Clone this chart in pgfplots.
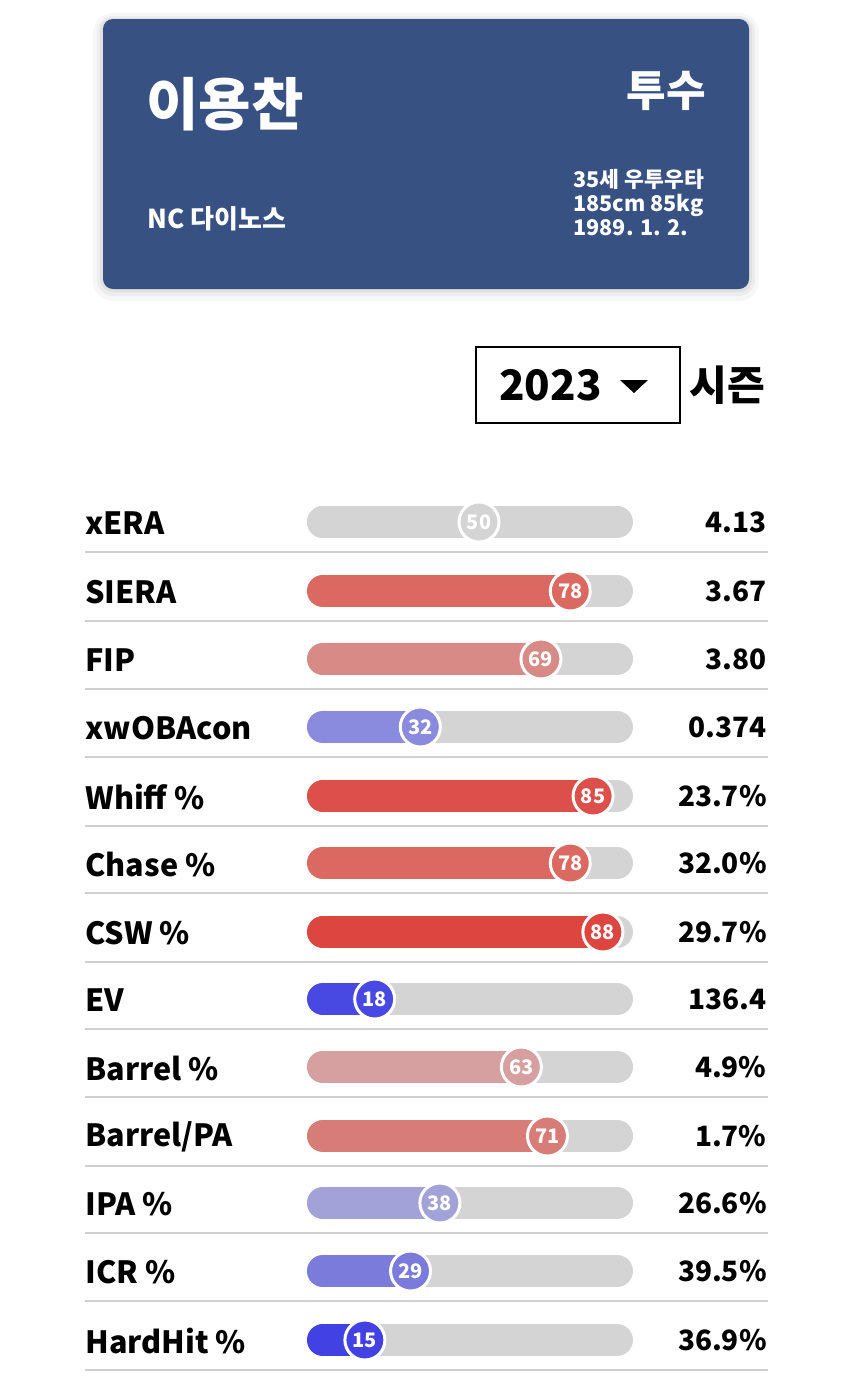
\documentclass[border=0pt]{standalone}
\usepackage{pgfplots}
\pgfplotsset{compat=1.18}
\usepackage{fontspec}
\setmainfont{Noto Sans CJK KR}
\definecolor{card}{HTML}{385183}
\definecolor{track}{HTML}{D4D4D4}
\definecolor{sepc}{HTML}{D0D0D0}
\definecolor{cA}{HTML}{D4D4D4}
\definecolor{cB}{HTML}{DC6862}
\definecolor{cC}{HTML}{D88A86}
\definecolor{cD}{HTML}{8A8ADE}
\definecolor{cE}{HTML}{DC4F4A}
\definecolor{cF}{HTML}{DC6862}
\definecolor{cG}{HTML}{DD4540}
\definecolor{cH}{HTML}{4848E2}
\definecolor{cI}{HTML}{D6A0A0}
\definecolor{cJ}{HTML}{D87C78}
\definecolor{cK}{HTML}{A2A2D8}
\definecolor{cL}{HTML}{7B7BDC}
\definecolor{cM}{HTML}{4242E4}
\newcommand{\prow}[3]{%
 \addplot[track, line width=16pt, line cap=round] coordinates {(2.15,#1) (92.33,#1)};
 \addplot[#3, line width=16pt, line cap=round] coordinates {(2.15,#1) (#2,#1)};
 \addplot[only marks, mark=*, mark size=10pt, mark options={fill=#3, draw=white, line width=1.5pt},
   point meta=explicit symbolic, nodes near coords, nodes near coords align={center},
   every node near coord/.append style={font=\bfseries\fontsize{10}{10}\selectfont, text=white, inner sep=0pt}]
   coordinates {(#2,#1) [#2]};
}
\newcommand{\lrow}[3]{%
 \node[anchor=west, inner sep=0pt, font=\bfseries\fontsize{15.3}{15.3}\selectfont] at (axis cs:85,#1+1) {#2};
 \node[anchor=east, inner sep=0pt, font=\bfseries\fontsize{14}{14}\selectfont] at (axis cs:767,#1) {#3};
 \draw[sepc, line width=0.6pt] (axis cs:85,#1+30) -- (axis cs:768,#1+30);
}
\begin{document}
\begin{tikzpicture}
\useasboundingbox (0,0) rectangle (425pt,694pt);
\begin{axis}[at={(0,0)}, anchor=south west, scale only axis, width=425pt, height=694pt,
  xmin=0, xmax=850, ymin=0, ymax=1388, y dir=reverse, hide axis, clip=false]
 % card shadow
 \fill[black, opacity=0.03, rounded corners=10pt] (axis cs:93,13) rectangle (axis cs:759,301);
 \fill[black, opacity=0.04, rounded corners=8pt] (axis cs:97,16) rectangle (axis cs:755,296);
 \fill[black, opacity=0.05, rounded corners=6pt] (axis cs:100,18) rectangle (axis cs:752,292);
 \fill[card, rounded corners=5pt] (axis cs:103,19) rectangle (axis cs:749,289);
 \node[anchor=west, inner sep=0pt, text=white, font=\bfseries\fontsize{28.5}{28.5}\selectfont] at (axis cs:146,104) {이용찬};
 \node[anchor=east, inner sep=0pt, text=white, font=\bfseries\fontsize{21.5}{21.5}\selectfont] at (axis cs:706,91) {투수};
 \node[anchor=west, inner sep=0pt, text=white, font=\bfseries\fontsize{13}{13}\selectfont] at (axis cs:147,219) {NC 다이노스};
 \node[anchor=north west, inner sep=0pt, text=white, align=left, font=\bfseries\fontsize{10.8}{12}\selectfont] at (axis cs:573,169) {35세 우투우타\\185cm 85kg\\1989. 1. 2.};
 % season selector
 \draw[black, line width=0.8pt] (axis cs:476,347) rectangle (axis cs:680,423);
 \node[anchor=west, inner sep=0pt, font=\bfseries\fontsize{21}{21}\selectfont] at (axis cs:499,385) {2023};
 \fill[black] (axis cs:620,380) -- (axis cs:648,380) -- (axis cs:634,393) -- cycle;
 \node[anchor=west, inner sep=0pt, font=\bfseries\fontsize{20.5}{20.5}\selectfont] at (axis cs:689,385) {시즌};
 % rows
 \lrow{522}{xERA}{4.13}
 \lrow{591}{SIERA}{3.67}
 \lrow{659}{FIP}{3.80}
 \lrow{727}{xwOBAcon}{0.374}
 \lrow{796}{Whiff \%}{23.7\%}
 \lrow{863}{Chase \%}{32.0\%}
 \lrow{932}{CSW \%}{29.7\%}
 \lrow{999}{EV}{136.4}
 \lrow{1067}{Barrel \%}{4.9\%}
 \lrow{1136}{Barrel/PA}{1.7\%}
 \lrow{1203}{IPA \%}{26.6\%}
 \lrow{1271}{ICR \%}{39.5\%}
 \lrow{1340}{HardHit \%}{36.9\%}
\end{axis}
\begin{axis}[at={(0,0)}, anchor=south west, scale only axis, width=425pt, height=694pt,
  xmin=-96.933, xmax=163.804, ymin=0, ymax=1388, y dir=reverse, hide axis, clip=false]
 \prow{522}{50}{cA}
 \prow{591}{78}{cB}
 \prow{659}{69}{cC}
 \prow{727}{32}{cD}
 \prow{796}{85}{cE}
 \prow{863}{78}{cF}
 \prow{932}{88}{cG}
 \prow{999}{18}{cH}
 \prow{1067}{63}{cI}
 \prow{1136}{71}{cJ}
 \prow{1203}{38}{cK}
 \prow{1271}{29}{cL}
 \prow{1340}{15}{cM}
\end{axis}
\end{tikzpicture}
\end{document}
